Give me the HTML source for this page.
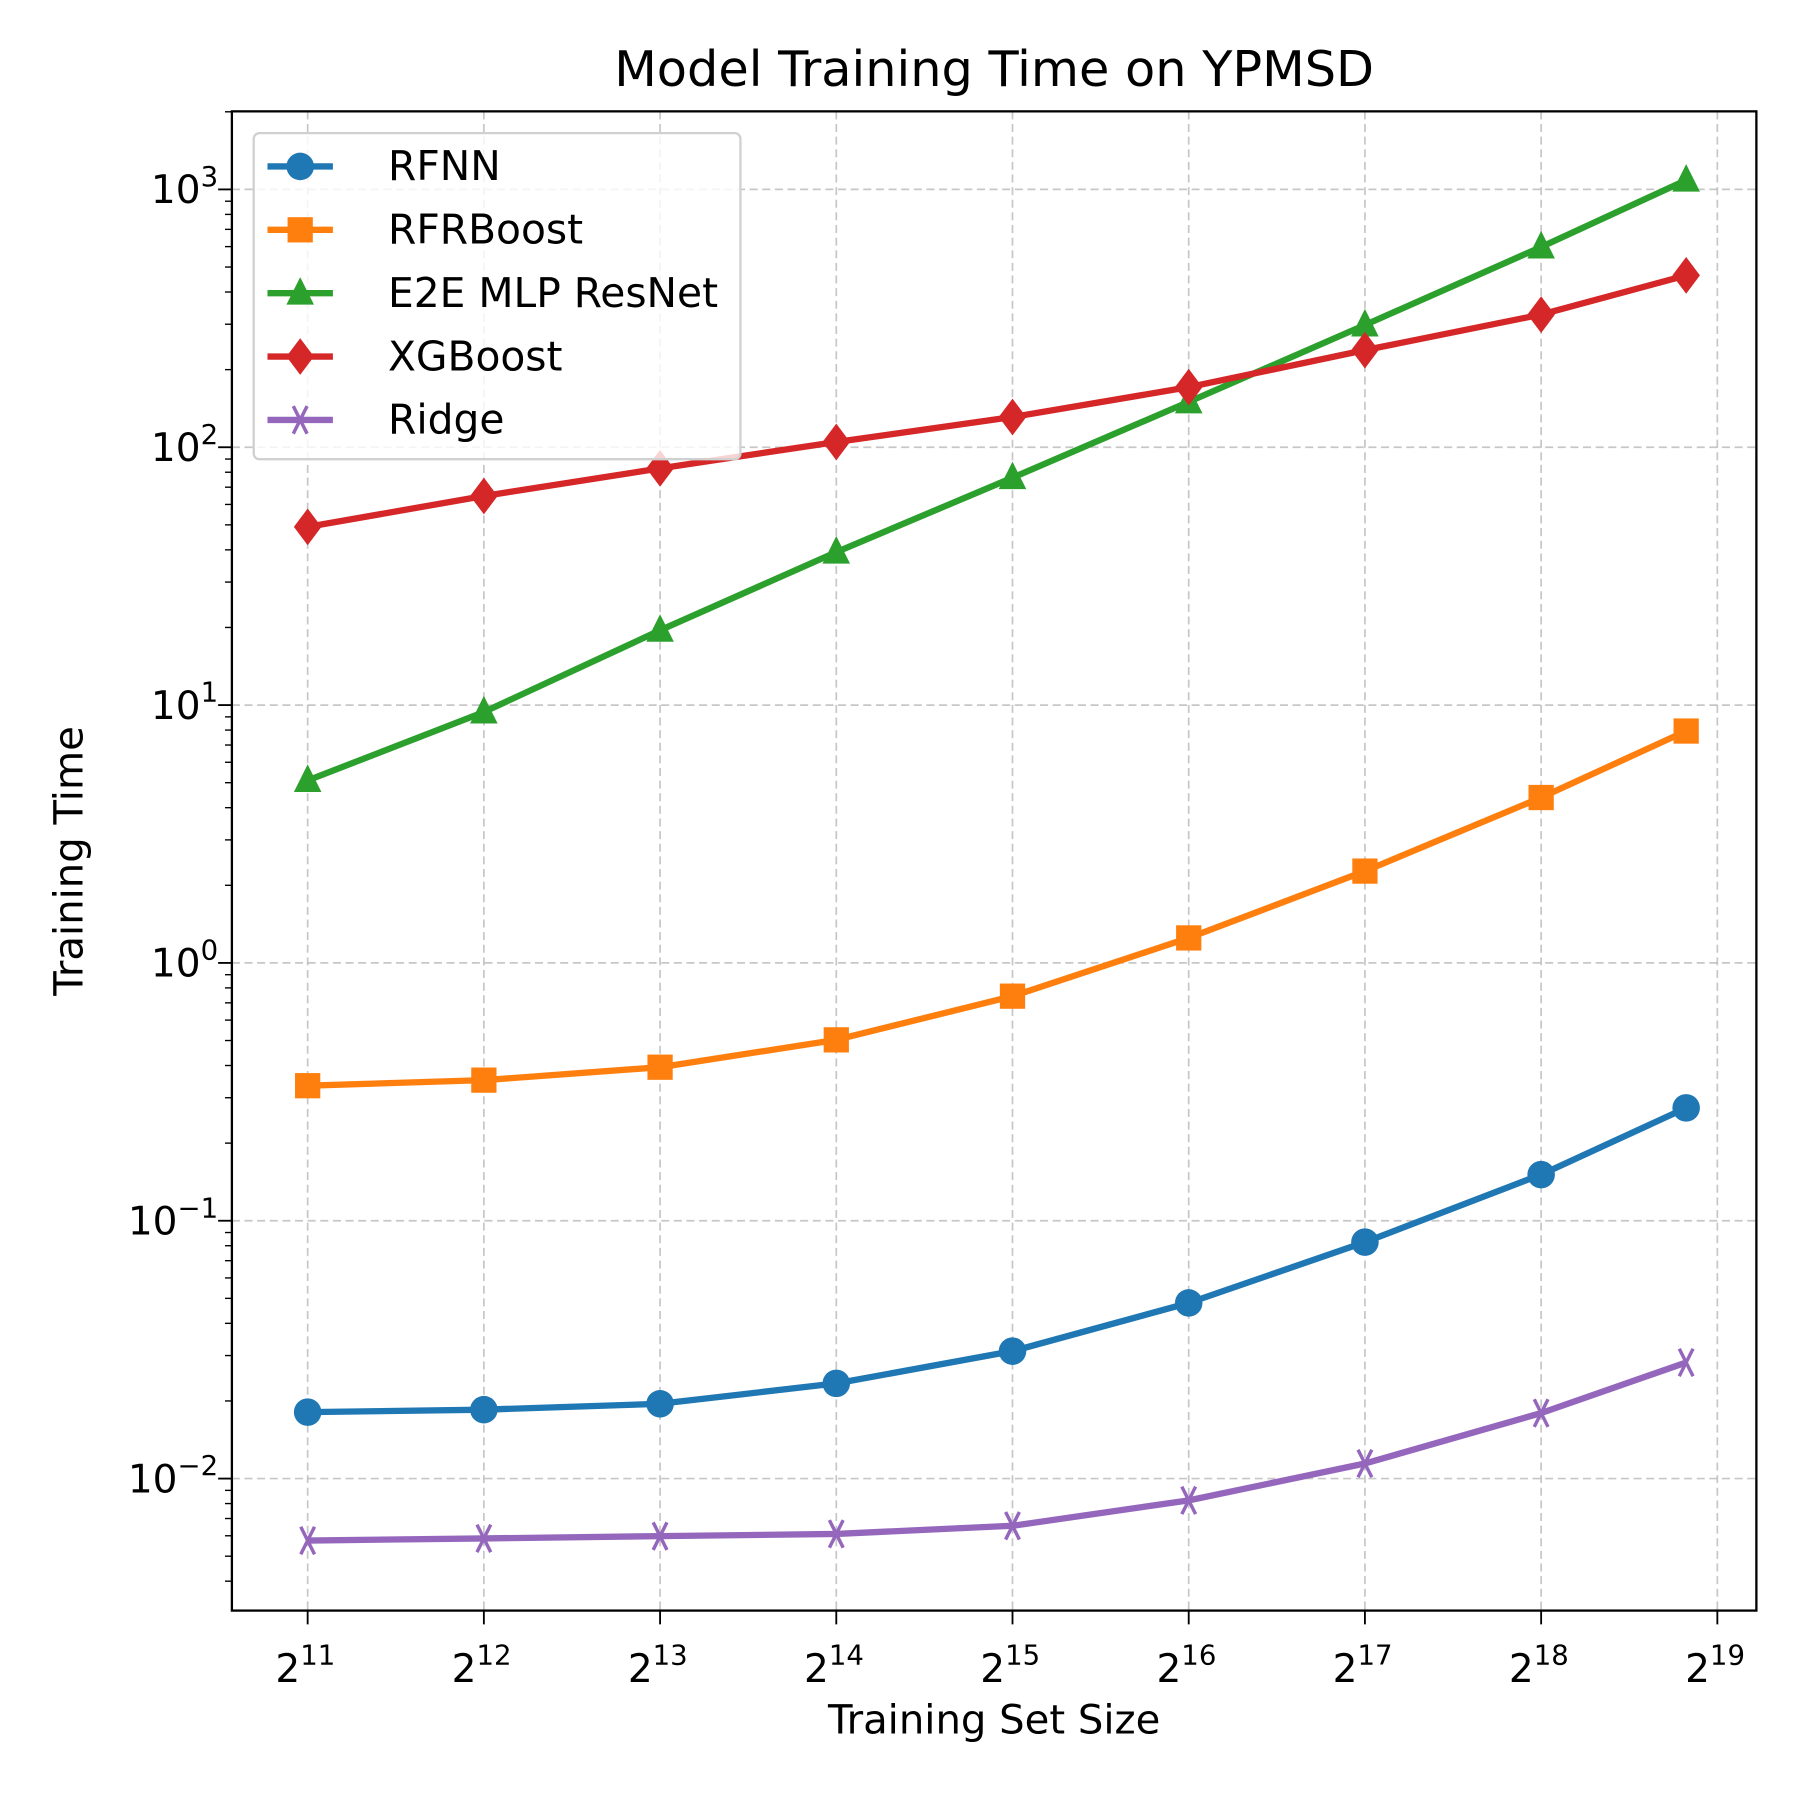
<!DOCTYPE html>
<html><head><meta charset="utf-8"><style>
html,body{margin:0;padding:0;background:#fff}
svg{display:block;font-family:"DejaVu Sans","Liberation Sans",sans-serif}
</style></head><body>
<svg id="chart" width="1800" height="1800" viewBox="0 0 1568 1568" xmlns="http://www.w3.org/2000/svg">
<rect width="1568" height="1568" fill="#fff"/>
<text x="866" y="75" font-size="43" text-anchor="middle">Model Training Time on YPMSD</text>
<g id="grid"></g>
<g id="axes"></g>
<g id="series"></g>
<rect x="202" y="97" width="1328" height="1306" fill="none" stroke="#000" stroke-width="2"/>
<text x="866" y="1510" font-size="35" text-anchor="middle">Training Set Size</text>
<text transform="translate(72,750) rotate(-90)" font-size="35" text-anchor="middle">Training Time</text>
<g id="legend"></g>
</svg>
<script>
const xExp = [11, 12, 13, 14, 15, 16, 17, 18, 18.823];
const xTickExps = [11, 12, 13, 14, 15, 16, 17, 18, 19];
const yTickExps = [-2, -1, 0, 1, 2, 3];
const seriesNames = ["RFNN", "RFRBoost", "E2E MLP ResNet", "XGBoost", "Ridge"];
const rfnn = [0.0181, 0.0185, 0.0195, 0.0234, 0.0312, 0.048, 0.0826, 0.151, 0.274];
const rfrboost = [0.334, 0.351, 0.394, 0.503, 0.743, 1.25, 2.27, 4.38, 7.93];
const e2e = [5.1, 9.4, 19.5, 39.2, 76.2, 150, 298, 598, 1086];
const xgboost = [49.1, 64.7, 82.8, 104.8, 131, 171, 238, 327, 464];
const ridge = [0.00575, 0.00586, 0.00598, 0.0061, 0.00656, 0.00823, 0.01144, 0.01795, 0.0282];

const NS = "http://www.w3.org/2000/svg";
const L = 202, R = 1530, T = 97, B = 1403;
const xs = e => 268 + (e - 11) * 153.5;
const ys = v => 165 + (3 - Math.log10(v)) * 224.6;
function mk(tag, attrs, parent) {
  const el = document.createElementNS(NS, tag);
  for (const k in attrs) el.setAttribute(k, attrs[k]);
  parent.appendChild(el);
  return el;
}
const grid = document.getElementById('grid');
const axes = document.getElementById('axes');
xTickExps.forEach(e => {
  const x = xs(e);
  const g = mk('line', {x1: x, x2: x, y1: T, y2: B, stroke: '#b0b0b0', 'stroke-width': 1.5, 'stroke-dasharray': '7,4', opacity: 0.7}, grid);
  
  
  const t = mk('line', {x1: x, x2: x, y1: B, y2: B + 12, stroke: '#000', 'stroke-width': 1.6}, axes);
  
  
  const lb = mk('text', {x: x - 2, y: B + 62, 'font-size': 34, 'text-anchor': 'middle'}, axes);
  
  
  lb.innerHTML = '2<tspan dy="-15" font-size="24">' + e + '</tspan>';
});
yTickExps.forEach(e => {
  const y = ys(Math.pow(10, e));
  const g = mk('line', {x1: L, x2: R, y1: y, y2: y, stroke: '#b0b0b0', 'stroke-width': 1.5, 'stroke-dasharray': '7,4', opacity: 0.7}, grid);
  
  
  const t = mk('line', {x1: L - 12, x2: L, y1: y, y2: y, stroke: '#000', 'stroke-width': 1.6}, axes);
  
  
  const lb = mk('text', {x: L - 12, y: y + 12, 'font-size': 34, 'text-anchor': 'end'}, axes);
  
  
  lb.innerHTML = '10<tspan dy="-15" font-size="24">' + (e < 0 ? '\u2212' + (-e) : e) + '</tspan>';
});
for (let e = -3; e <= 3; e++) {
  for (let m = 2; m <= 9; m++) {
    const y = ys(m * Math.pow(10, e));
    if (y < T || y > B) continue;
    const t = mk('line', {x1: L - 6, x2: L, y1: y, y2: y, stroke: '#000', 'stroke-width': 1.2}, axes);
    
    
  }
}
const colors = ['#1f77b4', '#ff7f0e', '#2ca02c', '#d62728', '#9467bd'];
const markers = ['circle', 'square', 'triangle', 'diamond', 'x'];
const data = [rfnn, rfrboost, e2e, xgboost, ridge];
function marker(type, x, y, c, parent) {
  let el;
  if (type === 'circle') el = mk('circle', {cx: x, cy: y, r: 12, fill: c}, parent);
  else if (type === 'square') el = mk('rect', {x: x - 11, y: y - 11, width: 22, height: 22, fill: c}, parent);
  else if (type === 'triangle') el = mk('polygon', {points: `${x},${y - 14} ${x + 12},${y + 10} ${x - 12},${y + 10}`, fill: c}, parent);
  else if (type === 'diamond') el = mk('polygon', {points: `${x},${y - 16} ${x + 12},${y} ${x},${y + 16} ${x - 12},${y}`, fill: c}, parent);
  else el = mk('path', {d: `M${x - 6},${y - 12}L${x + 6},${y + 12}M${x - 6},${y + 12}L${x + 6},${y - 12}`, stroke: c, 'stroke-width': 3, fill: 'none'}, parent);
  return el;
}
const sg = document.getElementById('series');
data.forEach((vals, i) => {
  const g = mk('g', {}, sg);
  
  
  const pts = vals.map((v, j) => xs(xExp[j]) + ',' + ys(v)).join(' ');
  const pl = mk('polyline', {points: pts, fill: 'none', stroke: colors[i], 'stroke-width': 5.5, 'stroke-linejoin': 'round'}, g);
  
  
  vals.forEach((v, j) => {
    const m = marker(markers[i], xs(xExp[j]), ys(v), colors[i], g);
    
    
  });
});
const lg = document.getElementById('legend');


const box = mk('rect', {x: 221, y: 116, width: 424, height: 284, rx: 5, fill: '#fff', 'fill-opacity': 0.8, stroke: '#d0d0d0', 'stroke-width': 2}, lg);


seriesNames.forEach((n, i) => {
  const y = 145 + i * 55.2;
  const g = mk('g', {}, lg);
  
  
  mk('line', {x1: 233, x2: 290, y1: y, y2: y, stroke: colors[i], 'stroke-width': 5.5}, g);
  marker(markers[i], 261.5, y, colors[i], g);
  const t = mk('text', {x: 338, y: y + 12, 'font-size': 35.5}, g);
  t.textContent = n;
});
</script>
</body></html>
